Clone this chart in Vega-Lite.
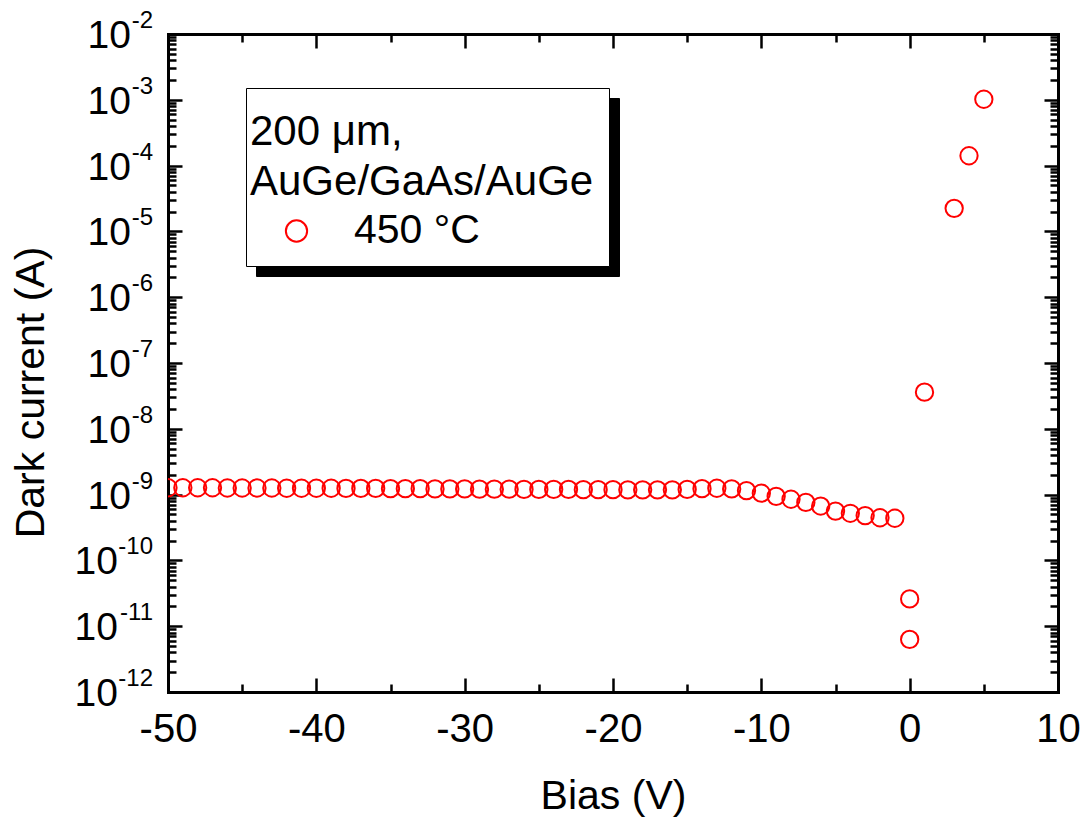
{
  "$schema": "https://vega.github.io/schema/vega-lite/v6.json",
  "width": 890,
  "height": 658,
  "autosize": "none",
  "padding": {"left": 168, "top": 34, "right": 28, "bottom": 127},
  "background": "white",
  "config": {
    "view": {"stroke": null},
    "font": "Liberation Sans",
    "style": {"guide-title": {"dy": 20}, "guide-label": {"dy": -20, "lineHeight": 11}},
    "axis": {
      "grid": false,
      "domainColor": "black",
      "tickColor": "black",
      "labelColor": "black",
      "titleColor": "black",
      "labelFont": "Liberation Sans",
      "titleFont": "Liberation Sans",
      "titleFontWeight": "normal",
      "domainWidth": 3,
      "domainCap": "square",
      "tickWidth": 2.5,
      "zindex": 1
    }
  },
  "datasets": {
    "iv": [
      {"bias": -50, "current": 1.27e-9, "series": "450 °C", "shadow": "450 °C"},
      {"bias": -49, "current": 1.27e-9, "series": "450 °C", "shadow": "450 °C"},
      {"bias": -48, "current": 1.27e-9, "series": "450 °C", "shadow": "450 °C"},
      {"bias": -47, "current": 1.27e-9, "series": "450 °C", "shadow": "450 °C"},
      {"bias": -46, "current": 1.26e-9, "series": "450 °C", "shadow": "450 °C"},
      {"bias": -45, "current": 1.26e-9, "series": "450 °C", "shadow": "450 °C"},
      {"bias": -44, "current": 1.26e-9, "series": "450 °C", "shadow": "450 °C"},
      {"bias": -43, "current": 1.26e-9, "series": "450 °C", "shadow": "450 °C"},
      {"bias": -42, "current": 1.25e-9, "series": "450 °C", "shadow": "450 °C"},
      {"bias": -41, "current": 1.25e-9, "series": "450 °C", "shadow": "450 °C"},
      {"bias": -40, "current": 1.25e-9, "series": "450 °C", "shadow": "450 °C"},
      {"bias": -39, "current": 1.25e-9, "series": "450 °C", "shadow": "450 °C"},
      {"bias": -38, "current": 1.24e-9, "series": "450 °C", "shadow": "450 °C"},
      {"bias": -37, "current": 1.24e-9, "series": "450 °C", "shadow": "450 °C"},
      {"bias": -36, "current": 1.24e-9, "series": "450 °C", "shadow": "450 °C"},
      {"bias": -35, "current": 1.23e-9, "series": "450 °C", "shadow": "450 °C"},
      {"bias": -34, "current": 1.23e-9, "series": "450 °C", "shadow": "450 °C"},
      {"bias": -33, "current": 1.23e-9, "series": "450 °C", "shadow": "450 °C"},
      {"bias": -32, "current": 1.22e-9, "series": "450 °C", "shadow": "450 °C"},
      {"bias": -31, "current": 1.22e-9, "series": "450 °C", "shadow": "450 °C"},
      {"bias": -30, "current": 1.22e-9, "series": "450 °C", "shadow": "450 °C"},
      {"bias": -29, "current": 1.21e-9, "series": "450 °C", "shadow": "450 °C"},
      {"bias": -28, "current": 1.21e-9, "series": "450 °C", "shadow": "450 °C"},
      {"bias": -27, "current": 1.21e-9, "series": "450 °C", "shadow": "450 °C"},
      {"bias": -26, "current": 1.2e-9, "series": "450 °C", "shadow": "450 °C"},
      {"bias": -25, "current": 1.2e-9, "series": "450 °C", "shadow": "450 °C"},
      {"bias": -24, "current": 1.2e-9, "series": "450 °C", "shadow": "450 °C"},
      {"bias": -23, "current": 1.2e-9, "series": "450 °C", "shadow": "450 °C"},
      {"bias": -22, "current": 1.19e-9, "series": "450 °C", "shadow": "450 °C"},
      {"bias": -21, "current": 1.19e-9, "series": "450 °C", "shadow": "450 °C"},
      {"bias": -20, "current": 1.19e-9, "series": "450 °C", "shadow": "450 °C"},
      {"bias": -19, "current": 1.18e-9, "series": "450 °C", "shadow": "450 °C"},
      {"bias": -18, "current": 1.18e-9, "series": "450 °C", "shadow": "450 °C"},
      {"bias": -17, "current": 1.18e-9, "series": "450 °C", "shadow": "450 °C"},
      {"bias": -16, "current": 1.18e-9, "series": "450 °C", "shadow": "450 °C"},
      {"bias": -15, "current": 1.2e-9, "series": "450 °C", "shadow": "450 °C"},
      {"bias": -14, "current": 1.23e-9, "series": "450 °C", "shadow": "450 °C"},
      {"bias": -13, "current": 1.25e-9, "series": "450 °C", "shadow": "450 °C"},
      {"bias": -12, "current": 1.22e-9, "series": "450 °C", "shadow": "450 °C"},
      {"bias": -11, "current": 1.15e-9, "series": "450 °C", "shadow": "450 °C"},
      {"bias": -10, "current": 1.05e-9, "series": "450 °C", "shadow": "450 °C"},
      {"bias": -9, "current": 9.4e-10, "series": "450 °C", "shadow": "450 °C"},
      {"bias": -8, "current": 8.5e-10, "series": "450 °C", "shadow": "450 °C"},
      {"bias": -7, "current": 7.6e-10, "series": "450 °C", "shadow": "450 °C"},
      {"bias": -6, "current": 6.7e-10, "series": "450 °C", "shadow": "450 °C"},
      {"bias": -5, "current": 5.6e-10, "series": "450 °C", "shadow": "450 °C"},
      {"bias": -4, "current": 5.2e-10, "series": "450 °C", "shadow": "450 °C"},
      {"bias": -3, "current": 4.8e-10, "series": "450 °C", "shadow": "450 °C"},
      {"bias": -2, "current": 4.45e-10, "series": "450 °C", "shadow": "450 °C"},
      {"bias": -1, "current": 4.37e-10, "series": "450 °C", "shadow": "450 °C"},
      {"bias": 0, "current": 2.6e-11, "series": "450 °C", "shadow": "450 °C"},
      {"bias": 0, "current": 6.3e-12, "series": "450 °C", "shadow": "450 °C"},
      {"bias": 1, "current": 3.6e-8, "series": "450 °C", "shadow": "450 °C"},
      {"bias": 3, "current": 2.24e-5, "series": "450 °C", "shadow": "450 °C"},
      {"bias": 4, "current": 1.41e-4, "series": "450 °C", "shadow": "450 °C"},
      {"bias": 5, "current": 1.02e-3, "series": "450 °C", "shadow": "450 °C"}
    ],
    "ticks": [
      {"v": 1e-2, "e": "-2"},
      {"v": 1e-3, "e": "-3"},
      {"v": 1e-4, "e": "-4"},
      {"v": 1e-5, "e": "-5"},
      {"v": 1e-6, "e": "-6"},
      {"v": 1e-7, "e": "-7"},
      {"v": 1e-8, "e": "-8"},
      {"v": 1e-9, "e": "-9"},
      {"v": 1e-10, "e": "-10"},
      {"v": 1e-11, "e": "-11"},
      {"v": 1e-12, "e": "-12"}
    ]
  },
  "resolve": {"axis": {"x": "independent", "y": "independent"}},
  "layer": [
    {
      "data": {"name": "iv"},
      "mark": {"type": "point", "filled": false, "strokeWidth": 2, "size": 300, "opacity": 1, "clip": true},
      "encoding": {
        "x": {
          "field": "bias", "type": "quantitative",
          "scale": {"domain": [-50, 10], "nice": false, "zero": false},
          "axis": {
            "orient": "bottom", "values": [-50, -40, -30, -20, -10, 0, 10],
            "tickSize": -14, "labelFontSize": 40, "labelPadding": 51,
            "labelExpr": "'' + datum.value", "labelFlush": false, "labelOverlap": false,
            "title": "Bias (V)", "titleFontSize": 41, "titleX": 445, "titleY": 96,
            "titleBaseline": "alphabetic", "titleAlign": "center"
          }
        },
        "y": {
          "field": "current", "type": "quantitative",
          "scale": {"type": "log", "domain": [1e-12, 1e-2], "nice": false},
          "axis": {
            "orient": "left",
            "values": [1e-12, 1e-11, 1e-10, 1e-9, 1e-8, 1e-7, 1e-6, 1e-5, 1e-4, 1e-3, 1e-2],
            "tickSize": -14, "labels": false,
            "title": "Dark current (A)", "titleFontSize": 41, "titleAngle": 270,
            "titleX": -145, "titleY": 358, "titleBaseline": "alphabetic", "titleAlign": "center"
          }
        },
        "color": {
          "field": "series", "type": "nominal",
          "scale": {"range": ["#ff0000"]},
          "legend": {
            "orient": "none", "legendX": 78, "legendY": 54, "zindex": 2,
            "title": ["200 μm,", "AuGe/GaAs/AuGe\u00a0\u200b"],
            "titleFont": "Liberation Sans", "titleFontSize": 42, "titleFontWeight": "normal",
            "titleColor": "black", "titleLineHeight": 50, "titleLimit": 2000, "titlePadding": 26.5,
            "titleAnchor": "start", "titleAlign": "left", "titleBaseline": "top",
            "labelFont": "Liberation Sans", "labelFontSize": 41, "labelColor": "black",
            "labelOffset": 37, "labelLimit": 2000, "labelBaseline": "top",
            "labelExpr": "[datum.label, '']",
            "symbolOffset": 26, "symbolSize": 452, "symbolStrokeWidth": 2, "symbolType": "circle",
            "padding": 4, "fillColor": "white", "strokeColor": "black"
          }
        },
        "shape": {
          "field": "shadow", "type": "nominal",
          "scale": {"range": ["circle"]},
          "legend": {
            "orient": "none", "legendX": 88, "legendY": 64, "zindex": 1,
            "title": ["200 μm,", "AuGe/GaAs/AuGe\u00a0\u200b"],
            "titleFont": "Liberation Sans", "titleFontSize": 42, "titleFontWeight": "normal",
            "titleColor": "black", "titleOpacity": 0, "titleLineHeight": 50, "titleLimit": 2000, "titlePadding": 26.5,
            "titleAnchor": "start", "titleAlign": "left", "titleBaseline": "top",
            "labelFont": "Liberation Sans", "labelFontSize": 41, "labelColor": "black", "labelOpacity": 0,
            "labelOffset": 37, "labelLimit": 2000, "labelBaseline": "top",
            "labelExpr": "[datum.label, '']",
            "symbolOffset": 26, "symbolSize": 452, "symbolStrokeWidth": 2, "symbolType": "circle",
            "symbolFillColor": "black", "symbolStrokeColor": "black", "symbolOpacity": 0,
            "padding": 4, "fillColor": "black", "strokeColor": "black"
          }
        }
      }
    },
    {
      "data": {"name": "iv"},
      "mark": {"type": "point", "opacity": 0},
      "encoding": {
        "x": {
          "field": "bias", "type": "quantitative",
          "scale": {"domain": [-50, 10], "nice": false, "zero": false},
          "axis": {"orient": "bottom", "values": [-45, -35, -25, -15, -5, 5], "tickSize": -8, "labels": false, "domain": false, "title": null}
        },
        "y": {
          "field": "current", "type": "quantitative",
          "scale": {"type": "log", "domain": [1e-12, 1e-2], "nice": false},
          "axis": {
            "orient": "left", "tickSize": -8, "labels": false, "domain": false, "title": null,
            "values": [2e-12, 3e-12, 4e-12, 5e-12, 6e-12, 7e-12, 8e-12, 9e-12,
                       2e-11, 3e-11, 4e-11, 5e-11, 6e-11, 7e-11, 8e-11, 9e-11,
                       2e-10, 3e-10, 4e-10, 5e-10, 6e-10, 7e-10, 8e-10, 9e-10,
                       2e-9, 3e-9, 4e-9, 5e-9, 6e-9, 7e-9, 8e-9, 9e-9,
                       2e-8, 3e-8, 4e-8, 5e-8, 6e-8, 7e-8, 8e-8, 9e-8,
                       2e-7, 3e-7, 4e-7, 5e-7, 6e-7, 7e-7, 8e-7, 9e-7,
                       2e-6, 3e-6, 4e-6, 5e-6, 6e-6, 7e-6, 8e-6, 9e-6,
                       2e-5, 3e-5, 4e-5, 5e-5, 6e-5, 7e-5, 8e-5, 9e-5,
                       2e-4, 3e-4, 4e-4, 5e-4, 6e-4, 7e-4, 8e-4, 9e-4,
                       2e-3, 3e-3, 4e-3, 5e-3, 6e-3, 7e-3, 8e-3, 9e-3]
          }
        }
      }
    },
    {
      "data": {"name": "iv"},
      "mark": {"type": "point", "opacity": 0},
      "encoding": {
        "x": {
          "field": "bias", "type": "quantitative",
          "scale": {"domain": [-50, 10], "nice": false, "zero": false},
          "axis": {"orient": "top", "values": [-50, -40, -30, -20, -10, 0, 10], "tickSize": -14, "labels": false, "title": null}
        },
        "y": {
          "field": "current", "type": "quantitative",
          "scale": {"type": "log", "domain": [1e-12, 1e-2], "nice": false},
          "axis": {"orient": "right", "values": [1e-12, 1e-11, 1e-10, 1e-9, 1e-8, 1e-7, 1e-6, 1e-5, 1e-4, 1e-3, 1e-2], "tickSize": -14, "labels": false, "title": null}
        }
      }
    },
    {
      "data": {"name": "iv"},
      "mark": {"type": "point", "opacity": 0},
      "encoding": {
        "x": {
          "field": "bias", "type": "quantitative",
          "scale": {"domain": [-50, 10], "nice": false, "zero": false},
          "axis": {"orient": "top", "values": [-45, -35, -25, -15, -5, 5], "tickSize": -8, "labels": false, "domain": false, "title": null}
        },
        "y": {
          "field": "current", "type": "quantitative",
          "scale": {"type": "log", "domain": [1e-12, 1e-2], "nice": false},
          "axis": {
            "orient": "right", "tickSize": -8, "labels": false, "domain": false, "title": null,
            "values": [2e-12, 3e-12, 4e-12, 5e-12, 6e-12, 7e-12, 8e-12, 9e-12,
                       2e-11, 3e-11, 4e-11, 5e-11, 6e-11, 7e-11, 8e-11, 9e-11,
                       2e-10, 3e-10, 4e-10, 5e-10, 6e-10, 7e-10, 8e-10, 9e-10,
                       2e-9, 3e-9, 4e-9, 5e-9, 6e-9, 7e-9, 8e-9, 9e-9,
                       2e-8, 3e-8, 4e-8, 5e-8, 6e-8, 7e-8, 8e-8, 9e-8,
                       2e-7, 3e-7, 4e-7, 5e-7, 6e-7, 7e-7, 8e-7, 9e-7,
                       2e-6, 3e-6, 4e-6, 5e-6, 6e-6, 7e-6, 8e-6, 9e-6,
                       2e-5, 3e-5, 4e-5, 5e-5, 6e-5, 7e-5, 8e-5, 9e-5,
                       2e-4, 3e-4, 4e-4, 5e-4, 6e-4, 7e-4, 8e-4, 9e-4,
                       2e-3, 3e-3, 4e-3, 5e-3, 6e-3, 7e-3, 8e-3, 9e-3]
          }
        }
      }
    },
    {
      "data": {"name": "ticks"},
      "transform": [{"filter": "length(datum.e) == 2"}],
      "mark": {"type": "text", "text": "10", "align": "right", "baseline": "middle", "dx": -37, "dy": 2, "fontSize": 39, "font": "Liberation Sans", "color": "black"},
      "encoding": {
        "x": {"datum": -50, "type": "quantitative", "scale": {"domain": [-50, 10], "nice": false, "zero": false}, "axis": null},
        "y": {"field": "v", "type": "quantitative", "scale": {"type": "log", "domain": [1e-12, 1e-2], "nice": false}, "axis": null}
      }
    },
    {
      "data": {"name": "ticks"},
      "transform": [{"filter": "length(datum.e) == 3"}],
      "mark": {"type": "text", "text": "10", "align": "right", "baseline": "middle", "dx": -50, "dy": 2, "fontSize": 39, "font": "Liberation Sans", "color": "black"},
      "encoding": {
        "x": {"datum": -50, "type": "quantitative", "scale": {"domain": [-50, 10], "nice": false, "zero": false}, "axis": null},
        "y": {"field": "v", "type": "quantitative", "scale": {"type": "log", "domain": [1e-12, 1e-2], "nice": false}, "axis": null}
      }
    },
    {
      "data": {"name": "ticks"},
      "mark": {"type": "text", "align": "right", "baseline": "middle", "dx": -15, "dy": -13, "fontSize": 24, "font": "Liberation Sans", "color": "black"},
      "encoding": {
        "x": {"datum": -50, "type": "quantitative", "scale": {"domain": [-50, 10], "nice": false, "zero": false}, "axis": null},
        "y": {"field": "v", "type": "quantitative", "scale": {"type": "log", "domain": [1e-12, 1e-2], "nice": false}, "axis": null},
        "text": {"field": "e", "type": "nominal"}
      }
    }
  ]
}
